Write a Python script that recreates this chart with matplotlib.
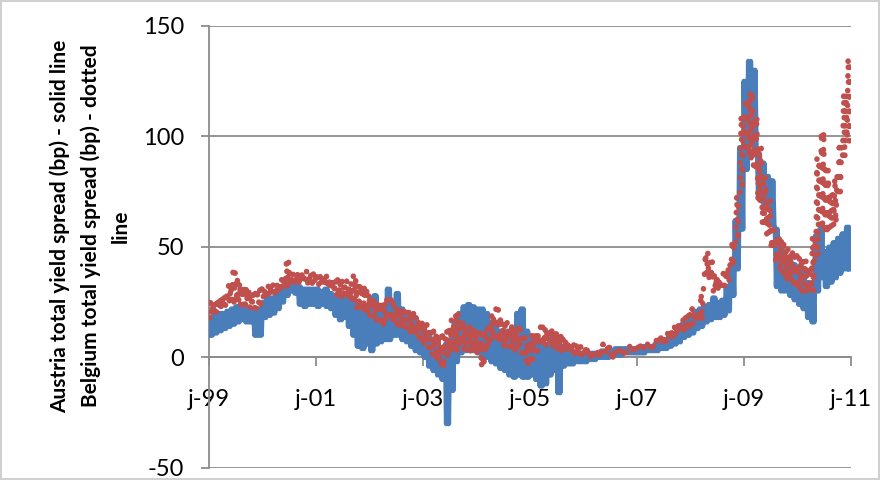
import numpy as np
import matplotlib
matplotlib.use("Agg")
import matplotlib.pyplot as plt

# monthly band (low / high), Jan 1999 .. Dec 2010, in bp
austria_low = [
    10, 11, 12, 13, 14, 15, 16, 17, 16, 16, 10, 10,
    18, 19, 20, 22, 25, 28, 30, 29, 24, 23, 24, 24,
    23, 24, 23, 22, 19, 17, 18, 14, 10, 5, 4, 6,
    3, 6, 7, 8, 8, 10, 10, 8, 7, 5, 3, 2,
    0, -4, -6, -8, -10, -30, -15, -2, 2, 3, 4, 3,
    2, 1, 0, -2, -3, -5, -6, -8, -9, -8, -9, -9,
    -8, -10, -13, -12, -8, -6, -16, -4, -3, -3, -2, -2,
    -2, -1, -1, 0, 0, 0, 1, 1, 1, 2, 2, 2,
    2, 2, 3, 3, 3, 4, 4, 5, 6, 7, 9, 10,
    11, 13, 14, 16, 17, 18, 18, 19, 21, 28, 40, 58,
    85, 110, 95, 72, 70, 68, 60, 32, 30, 30, 28, 26,
    24, 22, 18, 16, 30, 36, 32, 34, 36, 38, 40, 40,
]
austria_high = [
    18, 19, 20, 20, 21, 22, 23, 24, 22, 22, 20, 22,
    25, 27, 27, 29, 31, 34, 35, 34, 32, 31, 31, 31,
    31, 30, 31, 29, 28, 29, 27, 26, 25, 24, 22, 20,
    22, 28, 22, 22, 31, 24, 29, 22, 20, 18, 18, 15,
    12, 10, 8, 6, 4, 6, 8, 16, 20, 23, 24, 23,
    22, 22, 20, 16, 14, 12, 10, 12, 10, 20, 22, 12,
    10, 8, 6, 6, 6, 10, 8, 5, 3, 2, 2, 2,
    1, 2, 2, 2, 3, 3, 3, 4, 4, 4, 4, 4,
    4, 5, 5, 5, 6, 7, 8, 9, 11, 12, 15, 16,
    18, 21, 22, 23, 24, 27, 25, 26, 32, 42, 62, 95,
    125, 134, 130, 92, 88, 82, 80, 58, 50, 45, 44, 42,
    40, 38, 34, 30, 55, 58, 48, 50, 52, 54, 56, 59,
]
belgium_low = [
    18, 19, 21, 22, 24, 25, 24, 23, 24, 22, 22, 24,
    26, 27, 28, 28, 30, 31, 33, 33, 33, 34, 33, 33,
    33, 32, 32, 30, 28, 27, 27, 26, 25, 22, 20, 19,
    18, 17, 16, 15, 16, 15, 14, 14, 12, 11, 9, 8,
    6, 3, 0, -2, -6, 0, 2, 3, 4, 3, 2, 2,
    1, -5, 3, 8, 9, 6, 5, 4, 3, 3, 2, -3,
    -2, 2, 4, 5, 6, 4, 3, 3, 2, 1, 1, 0,
    0, 0, 1, 1, 1, 1, 0, 2, 2, 2, 3, 3,
    3, 4, 4, 4, 5, 5, 6, 7, 9, 10, 12, 13,
    14, 15, 16, 37, 35, 30, 30, 32, 34, 40, 52, 75,
    95, 90, 86, 70, 60, 55, 48, 42, 38, 35, 34, 33,
    30, 30, 28, 30, 45, 60, 55, 58, 60, 75, 90, 98,
]
belgium_high = [
    26, 26, 28, 29, 33, 39, 35, 33, 32, 30, 29, 31,
    32, 34, 33, 35, 37, 44, 38, 38, 38, 39, 38, 39,
    38, 38, 37, 36, 36, 35, 35, 34, 37, 34, 33, 30,
    28, 26, 26, 26, 26, 24, 23, 22, 22, 20, 18, 17,
    15, 13, 12, 10, 10, 13, 17, 21, 18, 15, 14, 13,
    12, 11, 14, 20, 22, 17, 16, 15, 14, 14, 12, 8,
    10, 12, 14, 14, 13, 12, 11, 9, 8, 7, 6, 5,
    4, 4, 4, 5, 6, 5, 4, 4, 5, 5, 5, 6,
    6, 6, 6, 7, 8, 9, 11, 13, 15, 17, 18, 20,
    22, 22, 30, 48, 44, 38, 36, 38, 42, 54, 74, 110,
    118, 121, 110, 95, 82, 72, 58, 56, 54, 50, 48, 46,
    46, 45, 42, 55, 90, 103, 85, 75, 82, 95, 120, 136,
]

tick_years = [1999, 2001, 2003, 2005, 2007, 2009, 2011]
tick_labels = ["j-99", "j-01", "j-03", "j-05", "j-07", "j-09", "j-11"]

n = len(austria_low)
# four readings per month, alternating between the band edges
t_aus = 1999 + (np.arange(n * 4) / 4.0) / 12.0
aus = np.ravel(np.column_stack([austria_high, austria_low, austria_high, austria_low]))
t_bel = 1999 + (np.arange(n * 4) / 4.0 + 0.125) / 12.0
bel = np.ravel(np.column_stack([belgium_low, belgium_high, belgium_low, belgium_high]))

plt.rcParams["font.family"] = ["Lato", "DejaVu Sans"]
plt.rcParams["axes.unicode_minus"] = False

fig = plt.figure(figsize=(8.8, 4.8), dpi=100)
fig.patch.set_edgecolor("#d0d0d0")
fig.patch.set_linewidth(1.5)
ax = fig.add_axes([0.2375, 0.025, 0.7295, 0.921])

ax.plot(t_aus, aus, color="#4a7ebb", linewidth=3.6, solid_joinstyle="round", zorder=3)
# Belgium drawn as a dotted line (round dots)
ax.plot(t_bel, bel, color="#c0504d", linewidth=4.0, linestyle=(0, (0.05, 2.6)),
        dash_capstyle="round", zorder=4)

ax.set_ylim(-50, 150)
ax.set_yticks([-50, 0, 50, 100, 150])
ax.set_xlim(1999, 2011)
ax.set_xticks(tick_years)
ax.set_xticklabels(tick_labels)

ax.grid(axis="y", color="#8c8c8c", linewidth=1.3)
ax.set_axisbelow(True)
for s in ["top", "right"]:
    ax.spines[s].set_visible(False)
ax.spines["left"].set_color("#8c8c8c")
ax.spines["left"].set_linewidth(1.3)
ax.spines["bottom"].set_position(("data", 0))
ax.spines["bottom"].set_color("#8c8c8c")
ax.spines["bottom"].set_linewidth(1.3)

ax.tick_params(axis="y", length=6, width=1.3, color="#8c8c8c", labelsize=17, pad=12)
ax.tick_params(axis="x", length=6.5, width=1.3, color="#8c8c8c", labelsize=17, pad=16)

fig.text(90 / 880, 1 - 226 / 480,
         "Austria total yield spread (bp) - solid line\n"
         "Belgium total yield spread (bp) - dotted\nline",
         rotation=90, ha="center", va="center", multialignment="center",
         fontsize=15, fontweight="bold", linespacing=1.6)

fig.savefig("out.png", dpi=100)
